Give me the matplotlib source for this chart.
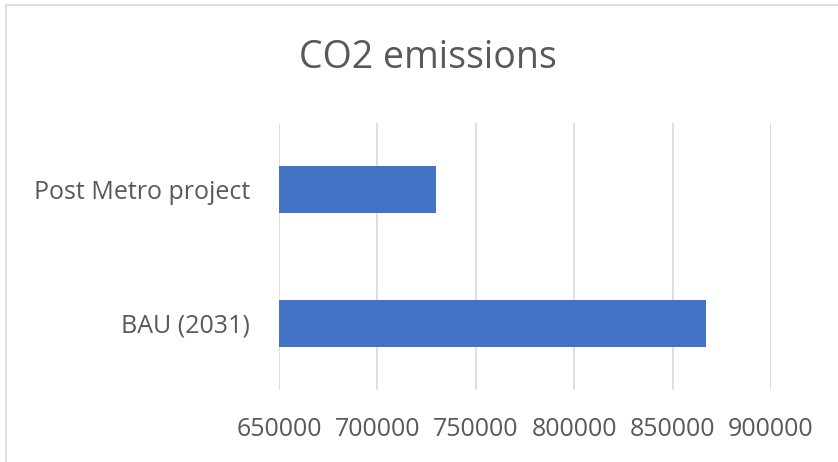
import matplotlib.pyplot as plt
from matplotlib.lines import Line2D

categorias = ["BAU (2031)", "Post Metro project"]
emisiones = [867000, 730000]
ticks_x = [650000, 700000, 750000, 800000, 850000, 900000]

plt.rcParams['font.family'] = ['Open Sans', 'DejaVu Sans']

fig = plt.figure(figsize=(8.38, 4.62), dpi=100)
ax = fig.add_axes([279 / 838, 1 - 390 / 462, 492 / 838, 267 / 462])

# barras horizontales desde el inicio del eje
ax.barh(range(len(categorias)), [v - ticks_x[0] for v in emisiones],
        left=ticks_x[0], height=0.35, color="#4472C4", zorder=3)

ax.set_xlim(ticks_x[0], ticks_x[-1])
ax.set_ylim(-0.5, len(categorias) - 0.5)
ax.set_xticks(ticks_x)
ax.set_xticklabels([str(t) for t in ticks_x], fontsize=18, color="#595959")
ax.set_yticks(range(len(categorias)))
ax.set_yticklabels(categorias, fontsize=18, color="#595959")
ax.tick_params(axis='x', length=0, pad=19.5)
ax.tick_params(axis='y', length=0, pad=21)

ax.grid(axis='x', color="#d9d9d9", linewidth=1.2, zorder=0)
for s in ax.spines.values():
    s.set_visible(False)

fig.text(428 / 838, 1 - 58 / 462, "CO2 emissions", ha='center', va='center',
         fontsize=27, color="#595959")

# borde del área del gráfico
fig.add_artist(Line2D([6 / 838, 1], [1 - 5 / 462, 1 - 5 / 462],
                      color="#d9d9d9", linewidth=1.2, transform=fig.transFigure))
fig.add_artist(Line2D([6 / 838, 6 / 838], [0, 1 - 5 / 462],
                      color="#d9d9d9", linewidth=1.2, transform=fig.transFigure))

fig.savefig("out.png", dpi=100)
